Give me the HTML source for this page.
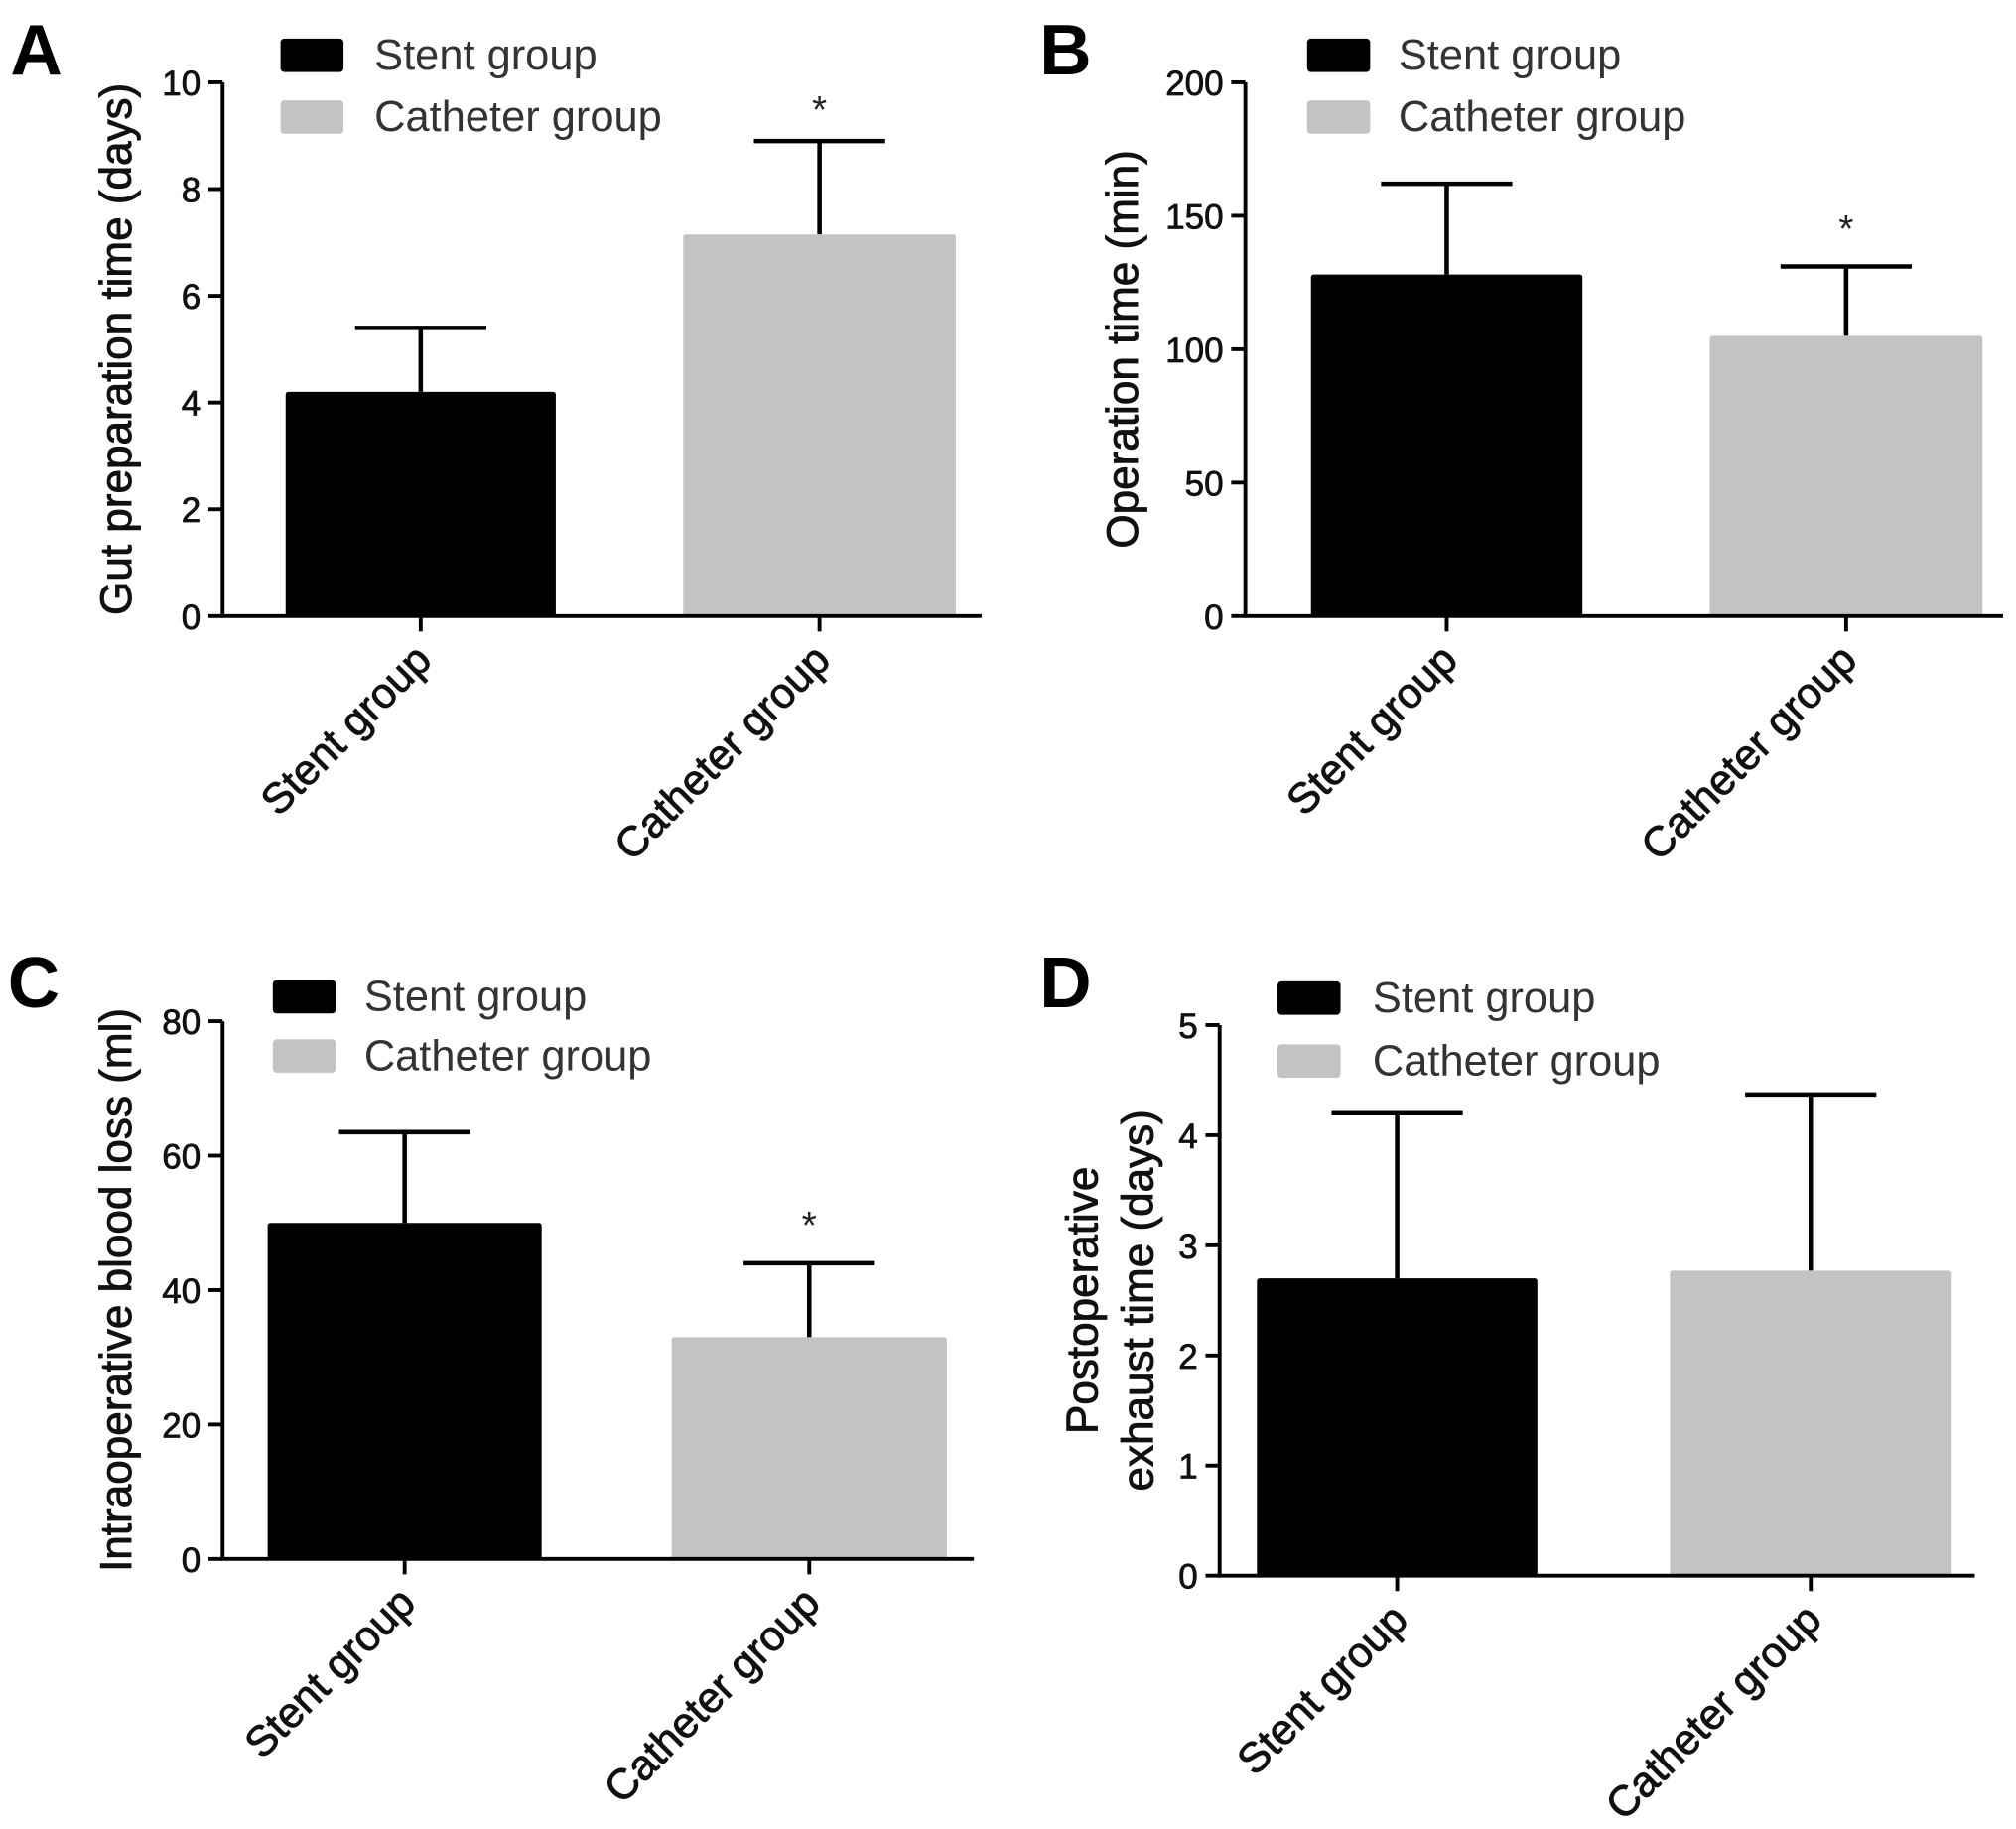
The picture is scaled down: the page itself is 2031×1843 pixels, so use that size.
<!DOCTYPE html>
<html><head><meta charset="utf-8"><style>
html,body{margin:0;padding:0;background:#fff;}
svg{display:block;font-family:"Liberation Sans",Arial,sans-serif;}
</style></head><body>
<svg id="fig" width="2031" height="1843" viewBox="0 0 1567 1422" xmlns="http://www.w3.org/2000/svg"></svg>
<script>
const categories = ["Stent group", "Catheter group"];
const meansA = [4.2, 7.15];  const errA = [5.4, 8.9];  const sigA = [false, true];
const meansB = [128, 105];   const errB = [162, 131];  const sigB = [false, true];
const meansC = [50, 33];     const errC = [63.5, 44];  const sigC = [false, true];
const meansD = [2.7, 2.77];  const errD = [4.2, 4.37]; const sigD = [false, false];
const ticksA = [0, 2, 4, 6, 8, 10];
const ticksB = [0, 50, 100, 150, 200];
const ticksC = [0, 20, 40, 60, 80];
const ticksD = [0, 1, 2, 3, 4, 5];
const colors = ["#000000", "#c3c3c3"];

const NS = "http://www.w3.org/2000/svg";
const svg = document.getElementById("fig");
function mk(tag, attrs, parent) {
  const e = document.createElementNS(NS, tag);
  for (const k in attrs) e.setAttribute(k, attrs[k]);
  (parent || svg).appendChild(e);
  return e;
}
const panels = [
  {id:"a", letter:"A", lx:8, ly:58, ax:173, top:64, bot:479, right:763, max:10, ticks:ticksA, means:meansA, err:errA, sig:sigA,
   bars:[[222,432],[531,743]], title:["Gut preparation time (days)"], tx:[102], leg:[218,30,78,291], starOff:40},
  {id:"b", letter:"B", lx:808, ly:58, ax:968, top:64, bot:479, right:1557, max:200, ticks:ticksB, means:meansB, err:errB, sig:sigB,
   bars:[[1019,1230],[1329,1541]], title:["Operation time (min)"], tx:[884], leg:[1016,30,78,1087], starOff:45},
  {id:"c", letter:"C", lx:6, ly:783, ax:173, top:794, bot:1212, right:757, max:80, ticks:ticksC, means:meansC, err:errC, sig:sigC,
   bars:[[208,421],[522,736]], title:["Intraoperative blood loss (ml)"], tx:[102], leg:[212,762,808,283], starOff:45},
  {id:"d", letter:"D", lx:808, ly:783, ax:948, top:797, bot:1225, right:1535, max:5, ticks:ticksD, means:meansD, err:errD, sig:sigD,
   bars:[[977,1195],[1298,1517]], title:["Postoperative","exhaust time (days)"], tx:[853,896], leg:[993,763,812,1067], starOff:40}
];
panels.forEach(p => {
  const g = mk("g", {});
  
  
  const y = v => p.bot - (v / p.max) * (p.bot - p.top);
  const L = mk("text", {x:p.lx, y:p.ly, "font-size":56, "font-weight":"bold", fill:"#000"}, g);
  L.textContent = p.letter;
  
  
  p.means.forEach((m, i) => {
    const [x0, x1] = p.bars[i];
    const cx = (x0 + x1) / 2;
    const eb = mk("path", {d:`M${cx} ${y(m)}V${y(p.err[i])}M${cx-51} ${y(p.err[i])}H${cx+51}`, stroke:"#000", "stroke-width":3.5, fill:"none"}, g);
    
    
    const r = mk("rect", {x:x0, y:y(m), width:x1-x0, height:p.bot-y(m), fill:colors[i], rx:2}, g);
    
    
    if (p.sig[i]) {
      const s = mk("text", {x:cx, y:y(p.err[i]) - p.starOff + 26, "font-size":30, "text-anchor":"middle", fill:"#222"}, g);
      s.textContent = "*";
      
      
    }
    const t = mk("line", {x1:cx, x2:cx, y1:p.bot, y2:p.bot+12, stroke:"#000", "stroke-width":3}, g);
    
    
    const ct = mk("text", {x:0, y:0, "font-size":33, "text-anchor":"end", fill:"#111", stroke:"#111", "stroke-width":0.7,
      transform:`translate(${cx+10},${p.bot+36}) rotate(-45)`}, g);
    ct.textContent = categories[i];
    
    
  });
  const axp = mk("path", {d:`M${p.ax} ${p.top}V${p.bot}H${p.right}`, stroke:"#000", "stroke-width":3, fill:"none"}, g);
  
  
  p.ticks.forEach(v => {
    const tl = mk("line", {x1:p.ax-11, x2:p.ax, y1:y(v), y2:y(v), stroke:"#000", "stroke-width":3}, g);
    
    
    const tt = mk("text", {x:p.ax-17, y:y(v)+10, "font-size":27, "text-anchor":"end", fill:"#111", stroke:"#111", "stroke-width":0.6}, g);
    tt.textContent = v;
    
    
  });
  const cy = (p.top + p.bot) / 2;
  p.title.forEach((line, k) => {
    const yt = mk("text", {x:0, y:0, "font-size":34, "text-anchor":"middle", fill:"#111", stroke:"#111", "stroke-width":0.7,
      transform:`translate(${p.tx[k]},${cy}) rotate(-90)`}, g);
    yt.textContent = line;
    
    
  });
  const [lx, ly1, ly2, ltx] = p.leg;
  [ly1, ly2].forEach((ly, i) => {
    const sw = mk("rect", {x:lx, y:ly, width:49, height:26, rx:3, fill:colors[i]}, g);
    
    
    const lt = mk("text", {x:ltx, y:ly+24, "font-size":33.5, fill:"#333"}, g);
    lt.textContent = categories[i];
    
    
  });
});
</script>
</body></html>
